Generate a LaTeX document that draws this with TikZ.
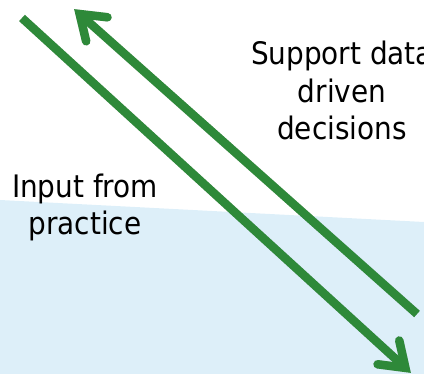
\documentclass[tikz,border=0pt]{standalone}
\usepackage{fontspec}
\setmainfont{DejaVu Sans Condensed}
\usetikzlibrary{calc}
\definecolor{arrowgreen}{RGB}{46,137,57}
\definecolor{paleblue}{RGB}{221,239,249}
\begin{document}
\begin{tikzpicture}[x=1pt,y=-1pt,
  shaft/.style={line width=8.5pt, line cap=butt},
  barb/.style={line width=8.5pt, line cap=round, line join=miter},
  txt/.style={font=\fontsize{31}{37.5}\selectfont, align=center, inner sep=0pt}]
\useasboundingbox (0,0) rectangle (424,374);
\clip (0,0) rectangle (424,374);
\fill[paleblue] (0,200) -- (424,222) -- (424,374) -- (0,374) -- cycle;
% arrow geometry
\coordinate (t1) at (22,18);
\coordinate (h1) at (411,373);
\coordinate (t2) at (417,314);
\coordinate (h2) at (74,9);
\coordinate (v1) at ($(h1)!7.6pt!(t1)$);
\coordinate (v2) at ($(h2)!7.6pt!(t2)$);
\coordinate (a1) at ($(v1)!28pt!35:(t1)$);
\coordinate (b1) at ($(v1)!28pt!-35:(t1)$);
\coordinate (a2) at ($(v2)!28pt!35:(t2)$);
\coordinate (b2) at ($(v2)!28pt!-35:(t2)$);
% shadows
\begin{scope}[shift={(2,2.5)}, draw=black, opacity=0.18]
  \draw[shaft] (t1) -- (v1);
  \draw[barb] (a1) -- (v1) -- (b1);
  \draw[shaft] (t2) -- (v2);
  \draw[barb] (a2) -- (v2) -- (b2);
\end{scope}
% arrows
\begin{scope}[draw=arrowgreen]
  \draw[shaft] (t1) -- (v1);
  \draw[barb] (a1) -- (v1) -- (b1);
  \draw[shaft] (t2) -- (v2);
  \draw[barb] (a2) -- (v2) -- (b2);
\end{scope}
% labels
\node[txt, anchor=base] (inp) at (85,235) {Input from\\practice};
\node[txt, anchor=base] (sup) at (342,140) {Support data\\driven\\decisions};
\end{tikzpicture}
\end{document}
